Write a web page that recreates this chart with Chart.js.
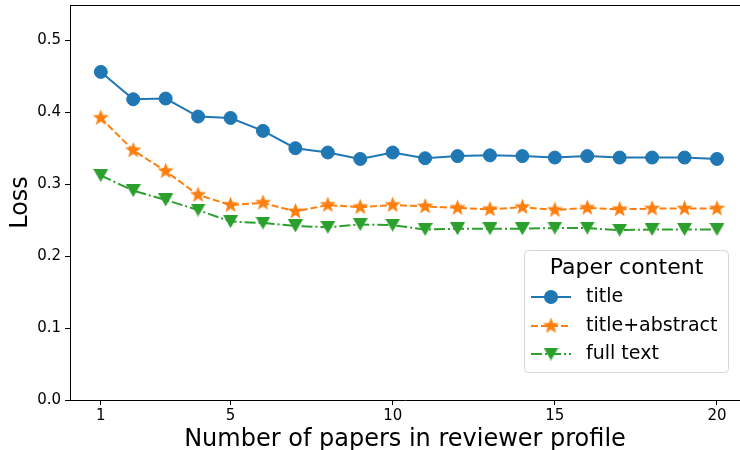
<!DOCTYPE html>
<html>
<head>
<meta charset="utf-8">
<script src="https://cdn.jsdelivr.net/npm/chart.js@4.4.0/dist/chart.umd.min.js"></script>
<style>
  html, body { margin: 0; padding: 0; background: #fff; }
  #c { display: block; }
</style>
</head>
<body>
<canvas id="c" width="740" height="450"></canvas>
<script>
// values
const papers = [1, 2, 3, 4, 5, 6, 7, 8, 9, 10, 11, 12, 13, 14, 15, 16, 17, 18, 19, 20];
const lossTitle = [0.456, 0.418, 0.419, 0.394, 0.392, 0.374, 0.350, 0.344, 0.335, 0.344,
                   0.336, 0.339, 0.340, 0.339, 0.337, 0.339, 0.337, 0.337, 0.337, 0.335];
const lossAbstract = [0.392, 0.347, 0.318, 0.285, 0.271, 0.274, 0.262, 0.271, 0.268, 0.271,
                      0.269, 0.267, 0.265, 0.268, 0.264, 0.267, 0.265, 0.266, 0.266, 0.266];
const lossFull = [0.312, 0.291, 0.278, 0.264, 0.248, 0.246, 0.242, 0.240, 0.244, 0.243,
                  0.237, 0.238, 0.238, 0.238, 0.239, 0.239, 0.236, 0.237, 0.237, 0.237];
const xTicks = [1, 5, 10, 15, 20];
const yTicks = [0, 0.1, 0.2, 0.3, 0.4, 0.5];
const seriesNames = ['title', 'title+abstract', 'full text'];
const legendTitle = 'Paper content';

const BLUE = '#1f77b4', ORANGE = '#ff7f0e', GREEN = '#2ca02c';
const FONT = "'DejaVu Sans', sans-serif";

function starMarker(color, r) {
    const s = Math.ceil(r * 2 + 2);
    const c = document.createElement('canvas');
    c.width = s; c.height = s;
    const g = c.getContext('2d');
    g.beginPath();
    for (let i = 0; i < 10; i++) {
        const rr = i % 2 ? r * 0.42 : r;
        const a = -Math.PI / 2 + i * Math.PI / 5;
        g.lineTo(s / 2 + rr * Math.cos(a), s / 2 + rr * Math.sin(a));
    }
    g.closePath();
    g.fillStyle = color;
    g.fill();
    return c;
}

function triangleDown(color, w, h) {
    const c = document.createElement('canvas');
    c.width = w; c.height = h;
    const g = c.getContext('2d');
    g.beginPath();
    g.moveTo(0, 0);
    g.lineTo(w, 0);
    g.lineTo(w / 2, h);
    g.closePath();
    g.fillStyle = color;
    g.fill();
    return c;
}

const star = starMarker(ORANGE, 8.5);
const tri = triangleDown(GREEN, 15, 13);

function pts(ys) {
    return papers.map((x, i) => ({x: x, y: ys[i]}));
}

const frame = {
    id: 'frame',
    afterDraw(chart) {
        const ctx = chart.ctx;
        const a = chart.chartArea;
        ctx.save();
        // top spine
        ctx.strokeStyle = '#000';
        ctx.lineWidth = 1;
        ctx.beginPath();
        ctx.moveTo(a.left, a.top + 0.5);
        ctx.lineTo(a.right, a.top + 0.5);
        ctx.stroke();

        // legend box
        const bx = 524.5, by = 250.5, bw = 204, bh = 122, rad = 4;
        ctx.beginPath();
        ctx.roundRect(bx, by, bw, bh, rad);
        ctx.fillStyle = 'rgba(255,255,255,0.8)';
        ctx.fill();
        ctx.strokeStyle = '#d6d6d6';
        ctx.stroke();

        ctx.fillStyle = '#000';
        ctx.textBaseline = 'middle';
        ctx.textAlign = 'center';
        ctx.font = '22px ' + FONT;
        ctx.fillText(legendTitle, bx + bw / 2, 268);

        ctx.textAlign = 'left';
        ctx.font = '19px ' + FONT;
        const rows = [297, 326, 354];
        chart.data.datasets.forEach((ds, i) => {
            const y = rows[i];
            ctx.save();
            ctx.strokeStyle = ds.borderColor;
            ctx.lineWidth = 2;
            ctx.setLineDash(ds.borderDash || []);
            ctx.beginPath();
            ctx.moveTo(531, y);
            ctx.lineTo(571, y);
            ctx.stroke();
            ctx.restore();
            if (ds.pointStyle === 'circle') {
                ctx.beginPath();
                ctx.arc(551, y, 7, 0, Math.PI * 2);
                ctx.fillStyle = ds.borderColor;
                ctx.fill();
            } else {
                const img = ds.pointStyle;
                ctx.drawImage(img, 551 - img.width / 2, y - img.height / 2);
            }
            ctx.fillStyle = '#000';
            ctx.fillText(ds.label, 586, y);
        });
        ctx.restore();
    }
};

new Chart(document.getElementById('c'), {
    type: 'line',
    data: {
        datasets: [
            {
                label: seriesNames[0],
                data: pts(lossTitle),
                borderColor: BLUE,
                backgroundColor: BLUE,
                borderWidth: 2,
                pointStyle: 'circle',
                pointRadius: 6.5,
                pointBorderWidth: 1,
                pointBorderColor: BLUE,
                pointBackgroundColor: BLUE,
                tension: 0,
                fill: false
            },
            {
                label: seriesNames[1],
                data: pts(lossAbstract),
                borderColor: ORANGE,
                backgroundColor: ORANGE,
                borderWidth: 2,
                borderDash: [7, 3],
                pointStyle: star,
                pointRadius: 8,
                tension: 0,
                fill: false
            },
            {
                label: seriesNames[2],
                data: pts(lossFull),
                borderColor: GREEN,
                backgroundColor: GREEN,
                borderWidth: 2,
                borderDash: [11, 3, 2, 3],
                pointStyle: tri,
                pointRadius: 8,
                tension: 0,
                fill: false
            }
        ]
    },
    options: {
        responsive: false,
        animation: false,
        devicePixelRatio: 1,
        layout: { autoPadding: false, padding: { top: 5, right: 0, bottom: 0, left: 0 } },
        plugins: {
            legend: { display: false },
            tooltip: { enabled: false }
        },
        scales: {
            x: {
                type: 'linear',
                min: 0.05,
                max: 20.71,
                afterFit(scale) {
                    scale.height = 50;
                    scale.paddingLeft = 0;
                    scale.paddingRight = 0;
                },
                afterBuildTicks(scale) { scale.ticks = xTicks.map(v => ({value: v})); },
                grid: { drawOnChartArea: false, drawTicks: true, tickLength: 5, color: '#000' },
                border: { color: '#000', width: 1 },
                ticks: {
                    color: '#000',
                    padding: 2,
                    maxRotation: 0,
                    font: { family: FONT, size: 15 }
                },
                title: {
                    display: true,
                    text: 'Number of papers in reviewer profile',
                    color: '#000',
                    padding: { top: 0, bottom: 0 },
                    font: { family: FONT, size: 24, lineHeight: 0.85 }
                }
            },
            y: {
                min: 0,
                max: 0.549,
                afterFit(scale) {
                    scale.width = 70;
                    scale.paddingTop = 0;
                    scale.paddingBottom = 0;
                },
                afterBuildTicks(scale) { scale.ticks = yTicks.map(v => ({value: v})); },
                grid: { drawOnChartArea: false, drawTicks: true, tickLength: 5, color: '#000' },
                border: { color: '#000', width: 1 },
                ticks: {
                    color: '#000',
                    padding: 4,
                    font: { family: FONT, size: 15 },
                    callback: v => v.toFixed(1)
                },
                title: {
                    display: true,
                    text: 'Loss',
                    color: '#000',
                    padding: { top: 6, bottom: 0 },
                    font: { family: FONT, size: 24, lineHeight: 1.2 }
                }
            }
        }
    },
    plugins: [frame]
});
</script>
</body>
</html>
